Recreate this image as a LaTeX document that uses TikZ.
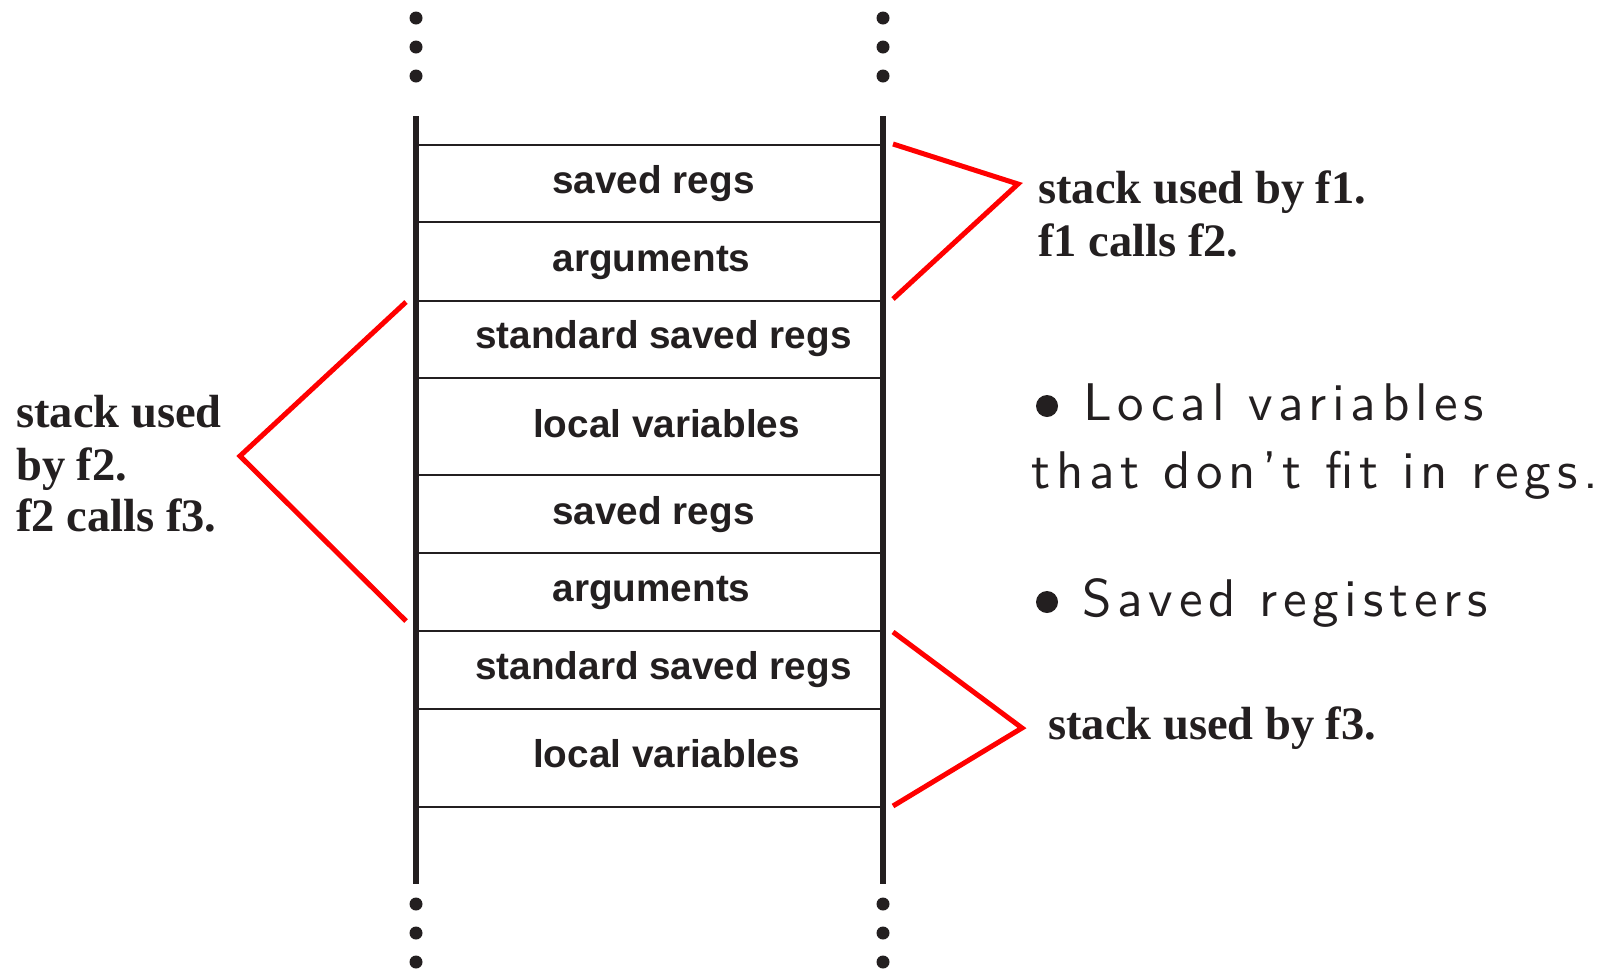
\documentclass[tikz,border=0pt]{standalone}
\usepackage{fontspec}
\newfontfamily\cellfont{Liberation Sans}
\newfontfamily\labfont{Liberation Serif}
\newfontfamily\slfont{lmsans10-regular.otf}[LetterSpace=11]
\definecolor{ink}{RGB}{35,31,32}
\begin{document}
\begin{tikzpicture}[x=1pt,y=-1pt,
  cell/.style={font=\cellfont\bfseries\fontsize{38.7}{46}\selectfont, text=ink, anchor=base, inner sep=0pt},
  lab/.style={font=\labfont\bfseries\fontsize{46.5}{53}\selectfont, text=ink, anchor=base west, inner sep=0pt},
  note/.style={font=\slfont\fontsize{53}{68}\selectfont, text=ink, anchor=base west, inner sep=0pt},
  wall/.style={line width=5.7pt, draw=ink},
  rulel/.style={line width=2pt, draw=ink},
  brace/.style={line width=5pt, draw=red},
  sdot/.style={circle, fill=ink, minimum size=13pt, inner sep=0pt},
  bul/.style={circle, fill=ink, minimum size=22pt, inner sep=0pt}]
\useasboundingbox (0,0) rectangle (1615,970);

% walls of the stack
\coordinate (wl-t) at (416,116);
\coordinate (wl-b) at (416,884);
\coordinate (wr-t) at (883,116);
\coordinate (wr-b) at (883,884);
\draw[wall] (wl-t) -- (wl-b);
\draw[wall] (wr-t) -- (wr-b);

% frame separators
\foreach \y [count=\i] in {145,222,301,378,475,553,631,709,807}{
  \coordinate (sl\i) at (416,\y);
  \coordinate (sr\i) at (883,\y);
  \draw[rulel] (sl\i) -- (sr\i);
}

% continuation dots
\foreach \x/\s in {416/l,883/r}{
  \foreach \y [count=\j] in {18,47,76,904,933,962}{
    \node[sdot] (dot-\s\j) at (\x,\y) {};
  }
}

% cell texts
\node[cell] (c1) at (653.5,193) {saved regs};
\node[cell] (c2) at (651.5,271) {arguments};
\node[cell] (c3) at (663.5,348) {standard saved regs};
\node[cell] (c4) at (666.5,437) {local variables};
\node[cell] (c5) at (653.5,524) {saved regs};
\node[cell] (c6) at (651.5,601) {arguments};
\node[cell] (c7) at (663.5,679) {standard saved regs};
\node[cell] (c8) at (666.5,767) {local variables};

% labels
\node[lab] (f1a) at (1038,203) {stack used by f1.};
\node[lab] (f1b) at (1038,256) {f1 calls f2.};
\node[lab] (f2a) at (16,427) {stack used};
\node[lab] (f2b) at (16,480) {by f2.};
\node[lab] (f2c) at (16,531) {f2 calls f3.};
\node[lab] (f3a) at (1048,739) {stack used by f3.};

% red brackets
\coordinate (b1s) at (893,144);
\coordinate (b1a) at (1018,184);
\coordinate (b1e) at (893,299);
\draw[brace] (b1s) -- (b1a) -- (b1e);
\coordinate (b2s) at (406,302);
\coordinate (b2a) at (240,456);
\coordinate (b2e) at (406,621);
\draw[brace] (b2s) -- (b2a) -- (b2e);
\coordinate (b3s) at (893,632);
\coordinate (b3a) at (1022,728);
\coordinate (b3e) at (893,806);
\draw[brace] (b3s) -- (b3a) -- (b3e);

% notes
\node[bul] (n1b) at (1047,406) {};
\node[note] (n1) at (1083,420) {Local variables};
\node[note] (n1c) at (1031,488) {that don’t fit in regs.};
\node[bul] (n2b) at (1047,602) {};
\node[note] (n2) at (1082,616) {Saved registers};
\end{tikzpicture}
\end{document}
